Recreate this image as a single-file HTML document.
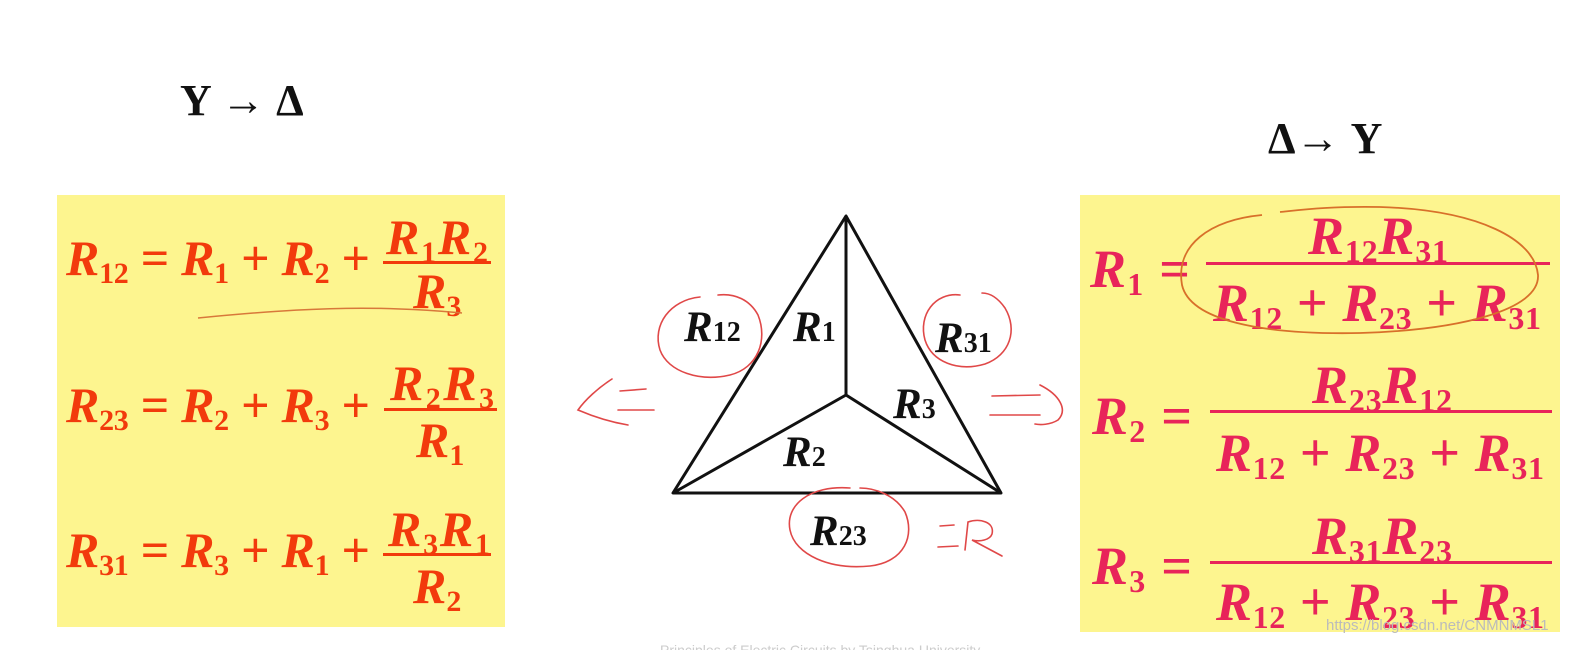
<!DOCTYPE html>
<html><head><meta charset="utf-8"><style>
html,body{margin:0;padding:0;background:#fff;width:1575px;height:650px;overflow:hidden}
svg{display:block}
.l{font-family:"Liberation Serif",serif;font-weight:bold;fill:#f23a0c}
.r{font-family:"Liberation Serif",serif;font-weight:bold;fill:#e8245a}
.k{font-family:"Liberation Serif",serif;font-weight:bold;fill:#111}
.i{font-style:italic}
.s{font-style:normal}
</style></head><body>
<svg width="1575" height="650" viewBox="0 0 1575 650">
<rect width="1575" height="650" fill="#fff"/>
<text x="180" y="115" class="k" font-size="44">Y → Δ</text>
<text x="1268" y="153" class="k" font-size="44">Δ→ Y</text>

<rect x="57" y="195" width="448" height="432" fill="#fdf58f"/>
<rect x="1080" y="195" width="480" height="437" fill="#fdf58f"/>

<!-- left equations -->
<g class="l" font-size="50">
<text x="66" y="275" textLength="304" lengthAdjust="spacing"><tspan class="i">R</tspan><tspan class="s" font-size="30" dy="8">12</tspan><tspan dy="-8"> = </tspan><tspan class="i">R</tspan><tspan class="s" font-size="30" dy="8">1</tspan><tspan dy="-8"> + </tspan><tspan class="i">R</tspan><tspan class="s" font-size="30" dy="8">2</tspan><tspan dy="-8"> +</tspan></text>
<text x="386" y="254" textLength="102" lengthAdjust="spacing"><tspan class="i">R</tspan><tspan class="s" font-size="30" dy="8">1</tspan><tspan class="i" dy="-8">R</tspan><tspan class="s" font-size="30" dy="8">2</tspan></text>
<rect x="383" y="261" width="108" height="3"/>
<text x="413" y="308"><tspan class="i">R</tspan><tspan class="s" font-size="30" dy="8">3</tspan></text>

<text x="66" y="422" textLength="304" lengthAdjust="spacing"><tspan class="i">R</tspan><tspan class="s" font-size="30" dy="8">23</tspan><tspan dy="-8"> = </tspan><tspan class="i">R</tspan><tspan class="s" font-size="30" dy="8">2</tspan><tspan dy="-8"> + </tspan><tspan class="i">R</tspan><tspan class="s" font-size="30" dy="8">3</tspan><tspan dy="-8"> +</tspan></text>
<text x="390" y="400" textLength="104" lengthAdjust="spacing"><tspan class="i">R</tspan><tspan class="s" font-size="30" dy="8">2</tspan><tspan class="i" dy="-8">R</tspan><tspan class="s" font-size="30" dy="8">3</tspan></text>
<rect x="384" y="408" width="113" height="3"/>
<text x="416" y="457"><tspan class="i">R</tspan><tspan class="s" font-size="30" dy="8">1</tspan></text>

<text x="66" y="567" textLength="304" lengthAdjust="spacing"><tspan class="i">R</tspan><tspan class="s" font-size="30" dy="8">31</tspan><tspan dy="-8"> = </tspan><tspan class="i">R</tspan><tspan class="s" font-size="30" dy="8">3</tspan><tspan dy="-8"> + </tspan><tspan class="i">R</tspan><tspan class="s" font-size="30" dy="8">1</tspan><tspan dy="-8"> +</tspan></text>
<text x="388" y="546" textLength="102" lengthAdjust="spacing"><tspan class="i">R</tspan><tspan class="s" font-size="30" dy="8">3</tspan><tspan class="i" dy="-8">R</tspan><tspan class="s" font-size="30" dy="8">1</tspan></text>
<rect x="383" y="553" width="108" height="3"/>
<text x="413" y="603"><tspan class="i">R</tspan><tspan class="s" font-size="30" dy="8">2</tspan></text>
</g>
<path d="M198 318 C260 312 330 306 400 309 C430 310 450 312 462 313" stroke="#d8783a" stroke-width="1.5" fill="none"/>

<!-- right equations -->
<g class="r" font-size="54">
<text x="1090" y="287" textLength="100" lengthAdjust="spacing"><tspan class="i">R</tspan><tspan class="s" font-size="32" dy="8">1</tspan><tspan dy="-8"> =</tspan></text>
<text x="1308" y="254" textLength="140" lengthAdjust="spacing"><tspan class="i">R</tspan><tspan class="s" font-size="32" dy="8">12</tspan><tspan class="i" dy="-8">R</tspan><tspan class="s" font-size="32" dy="8">31</tspan></text>
<rect x="1206" y="262" width="344" height="3"/>
<text x="1213" y="321" textLength="328" lengthAdjust="spacing"><tspan class="i">R</tspan><tspan class="s" font-size="32" dy="8">12</tspan><tspan dy="-8"> + </tspan><tspan class="i">R</tspan><tspan class="s" font-size="32" dy="8">23</tspan><tspan dy="-8"> + </tspan><tspan class="i">R</tspan><tspan class="s" font-size="32" dy="8">31</tspan></text>

<text x="1092" y="434" textLength="100" lengthAdjust="spacing"><tspan class="i">R</tspan><tspan class="s" font-size="32" dy="8">2</tspan><tspan dy="-8"> =</tspan></text>
<text x="1312" y="403" textLength="140" lengthAdjust="spacing"><tspan class="i">R</tspan><tspan class="s" font-size="32" dy="8">23</tspan><tspan class="i" dy="-8">R</tspan><tspan class="s" font-size="32" dy="8">12</tspan></text>
<rect x="1210" y="410" width="342" height="3"/>
<text x="1216" y="471" textLength="328" lengthAdjust="spacing"><tspan class="i">R</tspan><tspan class="s" font-size="32" dy="8">12</tspan><tspan dy="-8"> + </tspan><tspan class="i">R</tspan><tspan class="s" font-size="32" dy="8">23</tspan><tspan dy="-8"> + </tspan><tspan class="i">R</tspan><tspan class="s" font-size="32" dy="8">31</tspan></text>

<text x="1092" y="584" textLength="100" lengthAdjust="spacing"><tspan class="i">R</tspan><tspan class="s" font-size="32" dy="8">3</tspan><tspan dy="-8"> =</tspan></text>
<text x="1312" y="554" textLength="140" lengthAdjust="spacing"><tspan class="i">R</tspan><tspan class="s" font-size="32" dy="8">31</tspan><tspan class="i" dy="-8">R</tspan><tspan class="s" font-size="32" dy="8">23</tspan></text>
<rect x="1210" y="561" width="342" height="3"/>
<text x="1216" y="620" textLength="328" lengthAdjust="spacing"><tspan class="i">R</tspan><tspan class="s" font-size="32" dy="8">12</tspan><tspan dy="-8"> + </tspan><tspan class="i">R</tspan><tspan class="s" font-size="32" dy="8">23</tspan><tspan dy="-8"> + </tspan><tspan class="i">R</tspan><tspan class="s" font-size="32" dy="8">31</tspan></text>
</g>
<path d="M1262 215 C1210 220 1175 245 1182 285 C1190 320 1260 335 1360 333 C1460 330 1540 310 1538 275 C1535 240 1480 210 1380 207 C1330 206 1300 210 1280 212" stroke="#d8702a" stroke-width="1.8" fill="none"/>

<!-- triangle -->
<g stroke="#111" stroke-width="3" fill="none" stroke-linejoin="round">
<path d="M846 216 L673 493 L1001 493 Z"/>
<path d="M846 216 L846 395 M673 493 L846 395 L1001 493"/>
</g>
<g class="k" font-size="43">
<text x="684" y="341"><tspan class="i">R</tspan><tspan class="s" font-size="28">12</tspan></text>
<text x="793" y="341"><tspan class="i">R</tspan><tspan class="s" font-size="28">1</tspan></text>
<text x="935" y="352"><tspan class="i">R</tspan><tspan class="s" font-size="28">31</tspan></text>
<text x="893" y="418"><tspan class="i">R</tspan><tspan class="s" font-size="28">3</tspan></text>
<text x="783" y="466"><tspan class="i">R</tspan><tspan class="s" font-size="28">2</tspan></text>
<text x="810" y="545"><tspan class="i">R</tspan><tspan class="s" font-size="28">23</tspan></text>
</g>
<!-- handwritten red -->
<g stroke="#e04848" stroke-width="1.6" fill="none" stroke-linecap="round">
<path d="M700 297 C670 300 652 325 660 350 C668 372 700 382 730 375 C758 368 768 340 758 315 C750 300 735 293 718 295"/>
<path d="M960 295 C935 292 918 315 925 340 C932 362 958 372 985 364 C1010 355 1018 330 1005 308 C998 298 990 293 982 293"/>
<path d="M850 488 C810 485 785 505 790 530 C795 555 830 570 870 566 C905 562 915 535 905 512 C895 495 875 488 860 488"/>
<path d="M612 379 C598 388 585 400 578 410 C592 416 610 422 628 425"/>
<path d="M620 391 L646 389 M618 410 L654 410"/>
<path d="M992 396 L1040 395 M990 415 L1040 415 M1040 385 C1060 395 1068 410 1058 420 C1050 425 1040 425 1035 424"/>
<path d="M940 526 L954 525 M938 547 L958 546"/>
<path d="M965 550 L968 522 C980 518 995 522 992 534 C990 540 980 542 972 540 L1002 556"/>
</g>
<text x="1326" y="630" font-family="Liberation Sans,sans-serif" font-size="15" fill="#bbb">https://blog.csdn.net/CNMNMSL1</text>
<text x="660" y="655" font-family="Liberation Sans,sans-serif" font-size="14" fill="#ccc">Principles of Electric Circuits by Tsinghua University</text>
</svg>
</body></html>
